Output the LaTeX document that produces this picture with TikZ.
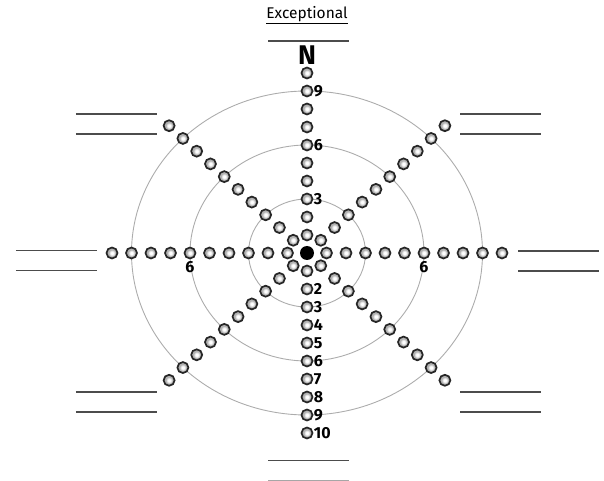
\documentclass[tikz,border=0pt]{standalone}
\usepackage{fontspec}
\setmainfont{Fira Sans}
\pgfdeclareradialshading{beadfill}{\pgfpoint{0bp}{0bp}}{color(0bp)=(white); color(7bp)=(white); color(15bp)=(gray!60); color(50bp)=(gray!60)}
\tikzset{bead/.style = {shape = circle,
                        draw = black!85,
                        line width = 1.7pt,
                        inner sep = 0pt,
                        minimum size = 11pt,
                        shading = beadfill},
         hub/.style = {shape = circle, fill = black, inner sep = 0pt, minimum size = 14pt},
         num/.style = {font = \fontsize{16}{16}\selectfont\bfseries, inner sep = 0.3pt},
         ring/.style = {draw = gray!65, line width = 0.9pt},
         blank/.style = {draw = black!70, line width = 1.2pt}}

\begin{document}
\begin{tikzpicture}[x=1pt, y=1pt]
  \useasboundingbox (-307,-228) rectangle (297,253);
  % rings at 3, 6 and 9
  \foreach \r in {3,6,9}
    \draw[ring] (0,0) ellipse ({19.5*\r} and {18*\r});
  % eight spokes of ten beads each
  \foreach \a in {0,45,...,315}
    \foreach \k in {1,...,10}
      \node[bead] (b\a-\k) at ({19.5*\k*cos(\a)},{18*\k*sin(\a)}) {};
  \node[hub] (c) at (0,0) {};
  % numbers
  \foreach \k in {3,6,9}
    \node[num, anchor=west] (u\k) at (b90-\k.east) {\k};
  \foreach \k in {2,...,10}
    \node[num, anchor=west] (d\k) at (b270-\k.east) {\k};
  \node[num, anchor=north, inner sep=1.5pt] (l6) at (b180-6.south) {6};
  \node[num, anchor=north, inner sep=1.5pt] (r6) at (b0-6.south) {6};
  \node[font=\fontsize{27}{27}\selectfont\bfseries] (n) at (0,198) {N};
  \node[font=\fontsize{15.5}{15.5}\selectfont] (title) at (0,238) {\underline{Exceptional}};
  % blanks to write on
  \draw[blank] (-39,212) -- ++(81,0);
  \draw[blank] (-39,-207.5) -- ++(81,0);
  \draw[blank, draw=gray!70] (-39,-227.4) -- ++(81,0);
  \foreach \x/\y in {-291/2.3, -291/-17.7, 211/2, 211/-18,
                     -231/139, -231/119, 153/139, 153/119,
                     -231/-139, -231/-159, 153/-139, 153/-159}
    \draw[blank] (\x,\y) -- ++(81,0);
\end{tikzpicture}
\end{document}
